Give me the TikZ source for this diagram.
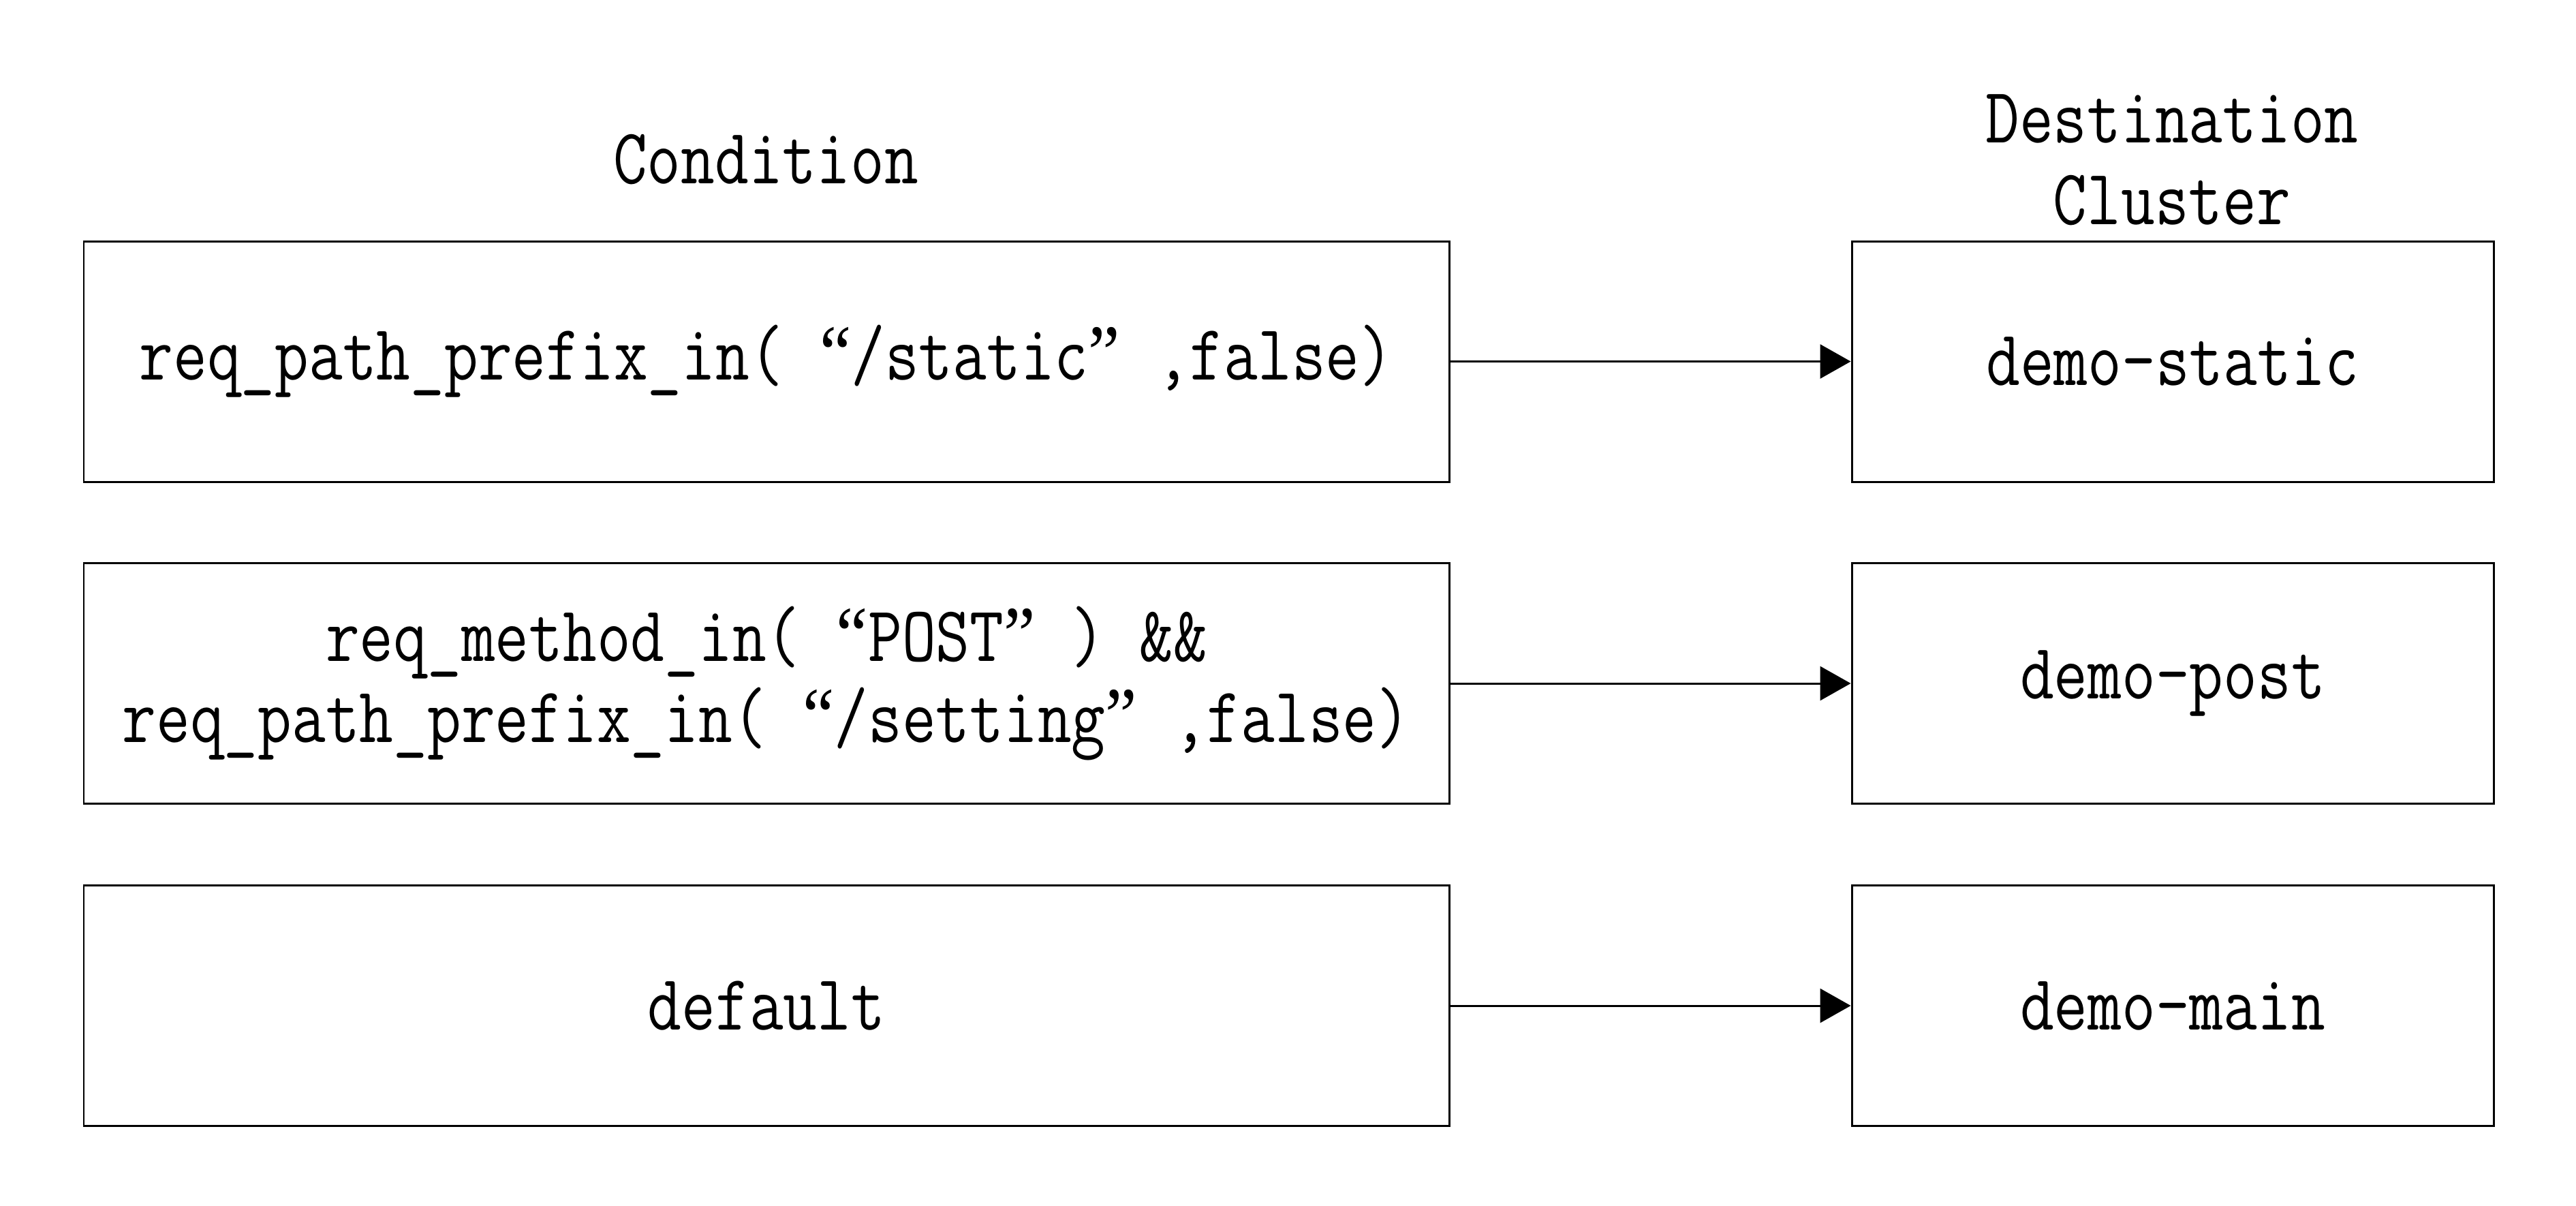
\documentclass[tikz,border=0pt]{standalone}
\usepackage{fontspec}
\usetikzlibrary{arrows.meta}
\newfontfamily\cf[FakeStretch=0.833]{Latin Modern Mono}
\newfontfamily\qf[FakeStretch=0.9]{Liberation Serif}
\newcommand{\lqt}{\makebox[\fontcharwd\font`x][r]{\qf “}}
\newcommand{\rqt}{\makebox[\fontcharwd\font`x][l]{\qf ”}}
\begin{document}
\begin{tikzpicture}[
  every node/.style={font=\cf\fontsize{33}{34}\selectfont, align=center, inner sep=0pt},
  condbox/.style={draw, line width=0.85pt, minimum width=20.04cm, minimum height=3.53cm},
  destbox/.style={draw, line width=0.85pt, minimum width=9.42cm, minimum height=3.53cm},
  arr/.style={line width=0.85pt, -{Triangle[length=0.45cm, width=0.5cm]}}
]
\useasboundingbox (0,0) rectangle (37.81,-17.69);
\node (hc) at (11.24,-2.34) {Condition};
\node (hd) at (31.88,-2.35) {Destination\\Cluster};
\node[condbox] (c1) at (11.25,-5.305) {req\_path\_prefix\_in( \lqt/static\rqt\ ,false)};
\node[condbox] (c2) at (11.25,-10.03) {req\_method\_in( \lqt POST\rqt\ ) \&\&\\req\_path\_prefix\_in( \lqt/setting\rqt\ ,false)};
\node[condbox] (c3) at (11.25,-14.76) {default};
\node[destbox] (d1) at (31.89,-5.305) {demo-static};
\node[destbox] (d2) at (31.89,-10.03) {demo-post};
\node[destbox] (d3) at (31.89,-14.76) {demo-main};
\draw[arr] (c1.east) -- (d1.west);
\draw[arr] (c2.east) -- (d2.west);
\draw[arr] (c3.east) -- (d3.west);
\end{tikzpicture}
\end{document}
